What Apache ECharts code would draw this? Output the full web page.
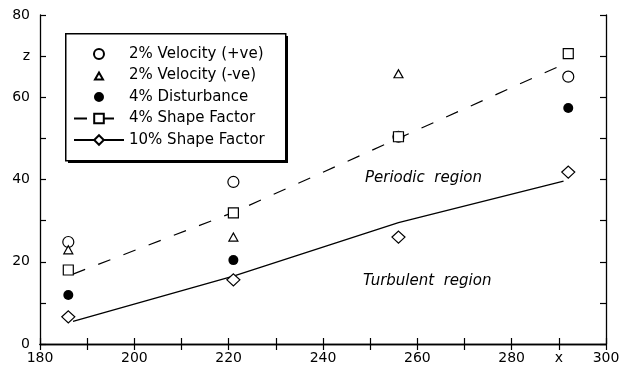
<!DOCTYPE html>
<html>
<head>
<meta charset="utf-8">
<script src="https://cdn.jsdelivr.net/npm/echarts@6/dist/echarts.min.js"></script>
<style>
  html, body { margin: 0; padding: 0; background: #fff; }
  #chart { width: 626px; height: 377px; }
</style>
</head>
<body>
<div id="chart"></div>
<script>
// values
const velPlus = [[186, 24.8], [221, 39.4], [256, 50.4], [292, 65]];
const velMinus = [[186, 22.9], [221, 26], [256, 65.7]];
const disturbance = [[186, 11.9], [221, 20.4], [292, 57.4]];
const shape4 = [[186, 18], [221, 31.9], [256, 50.4], [292, 70.6]];
const shape10 = [[186, 6.6], [221, 15.6], [256, 26], [292, 41.8]];
const shape4Fit = [[187, 17], [221, 32], [256, 50], [290, 67.5]];
const shape10Fit = [[187, 5.5], [221, 16.5], [256, 29.5], [291, 39.6]];
const legendNames = ['2% Velocity (+ve)', '2% Velocity (-ve)', '4% Disturbance', '4% Shape Factor', '10% Shape Factor'];

const font = 'DejaVu Sans';
const hollow = { color: '#fff', borderColor: '#000', borderWidth: 1.2, opacity: 1 };
// icons padded with empty points so the legend keeps them small
const smallTriangle = 'path://M-1,-1L-1,-1M11,11L11,11M1,9L5,2L9,9Z';
const smallCircle = 'path://M-1,-1L-1,-1M11,11L11,11M5,0A5,5,0,1,1,4.99,0Z';

const chart = echarts.init(document.getElementById('chart'));

const baseAxis = {
  type: 'value',
  min: 0, max: 80, interval: 10,
  axisLine: { show: true, lineStyle: { color: '#000', width: 1.3 } },
  axisTick: { show: true, inside: true, length: 6, lineStyle: { color: '#000', width: 1.2 } },
  splitLine: { show: false }
};

chart.setOption({
  animation: false,
  backgroundColor: '#fff',
  grid: { left: 40, right: 20, top: 15, bottom: 33 },
  legend: {
    data: [
      { name: legendNames[0], icon: smallCircle },
      { name: legendNames[1], icon: smallTriangle },
      { name: legendNames[2], icon: smallCircle },
      { name: legendNames[3] },
      { name: legendNames[4] }
    ],
    orient: 'vertical',
    left: 65, top: 35,
    padding: [11, 14, 12, 8],
    itemWidth: 50, itemHeight: 12,
    itemGap: 5.5,
    symbolKeepAspect: true,
    textStyle: { fontFamily: font, fontSize: 15, color: '#000', lineHeight: 16 },
    selectedMode: false
  },
  xAxis: [
    Object.assign({}, baseAxis, {
      min: 180, max: 300, position: 'bottom',
      axisLabel: {
        fontFamily: font, fontSize: 14, color: '#000', margin: 7,
        formatter: v => v % 20 === 0 ? String(v) : (v === 290 ? 'x' : '')
      }
    }),
    Object.assign({}, baseAxis, {
      min: 180, max: 300, position: 'top', axisLabel: { show: false }
    })
  ],
  yAxis: [
    Object.assign({}, baseAxis, {
      position: 'left',
      axisLabel: {
        fontFamily: font, fontSize: 14, color: '#000', margin: 10,
        formatter: v => v % 20 === 0 ? String(v) : (v === 70 ? 'z' : '')
      }
    }),
    Object.assign({}, baseAxis, { position: 'right', axisLabel: { show: false } })
  ],
  series: [
    {
      name: '2% Velocity (+ve)', type: 'scatter', data: velPlus,
      symbol: 'circle', symbolSize: 11, itemStyle: hollow
    },
    {
      name: '2% Velocity (-ve)', type: 'scatter', data: velMinus,
      symbol: 'triangle', symbolSize: [9, 8], itemStyle: hollow
    },
    {
      name: '4% Disturbance', type: 'scatter', data: disturbance,
      symbol: 'circle', symbolSize: 10, itemStyle: { color: '#000', opacity: 1 }
    },
    {
      name: '4% Shape Factor', type: 'line', data: shape4Fit,
      symbol: 'rect', symbolSize: 9, showSymbol: false,
      lineStyle: { color: '#000', width: 1.2, type: [13, 14] },
      itemStyle: hollow
    },
    {
      name: '10% Shape Factor', type: 'line', data: shape10Fit,
      symbol: 'diamond', symbolSize: 11, showSymbol: false,
      lineStyle: { color: '#000', width: 1.3 },
      itemStyle: hollow
    },
    {
      name: 'shape4 points', type: 'scatter', data: shape4,
      symbol: 'rect', symbolSize: 10, itemStyle: hollow, z: 3
    },
    {
      name: 'shape10 points', type: 'scatter', data: shape10,
      symbol: 'diamond', symbolSize: [13, 12], itemStyle: hollow, z: 3
    }
  ],
  graphic: [
    // legend frame: drop shadow then white box with border
    {
      type: 'rect', left: 68, top: 36, z: 1,
      shape: { width: 220, height: 127 },
      style: { fill: '#000' }
    },
    {
      type: 'rect', left: 65, top: 33, z: 2,
      shape: { width: 220, height: 127 },
      style: { fill: '#fff', stroke: '#000', lineWidth: 1.5 }
    },
    {
      type: 'text', left: 365, top: 171,
      style: { text: 'Periodic  region', fontFamily: font, fontStyle: 'italic', fontSize: 15, fill: '#000' }
    },
    {
      type: 'text', left: 363, top: 274,
      style: { text: 'Turbulent  region', fontFamily: font, fontStyle: 'italic', fontSize: 15, fill: '#000' }
    }
  ]
});
</script>
</body>
</html>
